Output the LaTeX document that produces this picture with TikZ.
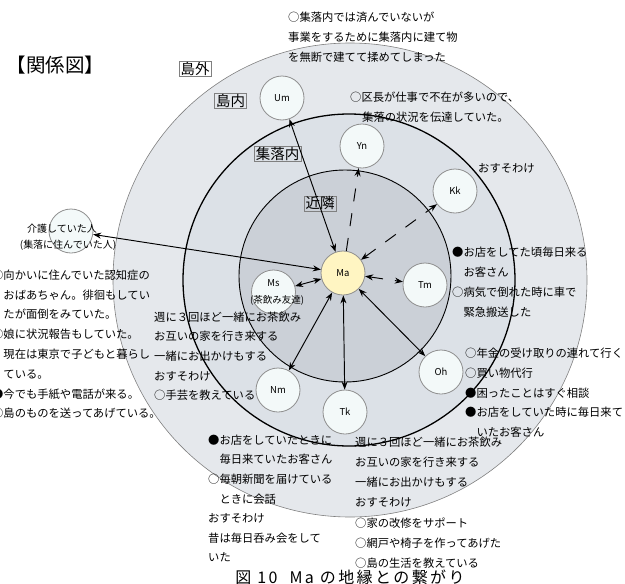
\documentclass[tikz,border=0pt]{standalone}
\usepackage{fontspec}
\setmainfont{Noto Sans CJK JP}
\usetikzlibrary{arrows.meta}
\definecolor{zoneA}{HTML}{E5E8EC}
\definecolor{zoneB}{HTML}{DCE1E7}
\definecolor{zoneC}{HTML}{CBD0D7}
\definecolor{nodefill}{HTML}{F3F9F9}
\definecolor{mafill}{HTML}{FFF5C2}
\definecolor{ringgray}{HTML}{8E8E8E}
\tikzset{
  person/.style={circle, draw=ringgray, line width=0.8pt, fill=nodefill, minimum size=44pt, inner sep=0pt, font=\fontsize{9.5}{11}\selectfont},
  mainperson/.style={person, fill=mafill},
  zonelbl/.style={draw=gray, line width=0.5pt, inner xsep=1.5pt, inner ysep=1pt, font=\fontsize{14.5}{16}\selectfont},
  txt/.style={anchor=base west, inner sep=0pt, font=\fontsize{11.3}{13}\selectfont},
  smalltxt/.style={anchor=base, inner sep=0pt, font=\fontsize{9.5}{11}\selectfont},
  tipx/.tip={Stealth[length=8pt,width=6pt]},
  link/.style={line width=0.95pt, tipx-tipx},
  dlink/.style={link, dash pattern=on 13pt off 12pt},
  slink/.style={line width=0.95pt, -tipx, dash pattern=on 13pt off 12pt},
}
\begin{document}
\begin{tikzpicture}[x=1pt,y=-1pt]
\useasboundingbox (0,0) rectangle (625,584);
% zones
\filldraw[fill=zoneA, draw=gray, line width=0.6pt] (350,280) circle[radius=237pt];
\filldraw[fill=zoneB, draw=black, line width=1.3pt] (349,280) circle[radius=166pt];
\filldraw[fill=zoneC, draw=black, line width=0.9pt] (345,276) circle[radius=106pt];
% zone labels
\node[zonelbl, fill=white] (lblout) at (195,68.5) {島外};
\node[zonelbl] (lblin) at (230.5,100.5) {島内};
\node[zonelbl] (lblvil) at (277.5,154) {集落内};
\node[zonelbl] (lblnb) at (320,203.5) {近隣};
% title
\node[anchor=base, inner sep=0pt, font=\fontsize{19.5}{22}\selectfont] (title) at (55.5,72) {【関係図】};
% people
\node[mainperson] (Ma) at (343,273) {Ma};
\node[person] (Um) at (282,98) {Um};
\node[person] (Yn) at (362,146) {Yn};
\node[person] (Kk) at (455,191) {Kk};
\node[person] (Tm) at (425,285) {Tm};
\node[person] (Oh) at (441,372) {Oh};
\node[person] (Tk) at (345,412) {Tk};
\node[person] (Nm) at (278,390) {Nm};
\node[person] (Ms) at (273.5,292) {};
\node[smalltxt] (Mslbl) at (273.5,286.5) {Ms};
\node[smalltxt] (Mslbl2) at (277,303.5) {(茶飲み友達)};
\node[person] (Kaigo) at (71,231) {};
\node[smalltxt, font=\fontsize{10}{12}\selectfont] (Kaigolbl) at (62,232) {介護していた人};
\node[smalltxt, font=\fontsize{10}{12}\selectfont] (Kaigolbl2) at (68,248) {(集落に住んでいた人)};
% connectors
\draw[link] (Ma) -- (Kaigo);
\draw[link] (Ma) -- (Um);
\draw[slink] (Ma) -- (Yn);
\draw[dlink] (Ma) -- (Kk);
\draw[dlink] (Ma) -- (Tm);
\draw[link] (Ma) -- (Oh);
\draw[link] (Ma) -- (Tk);
\draw[link] (Ma) -- (Nm);
\draw[link] (Ma) -- (Ms);
% text blocks
\foreach \t [count=\i from 0] in {○集落内では済んでいないが, 事業をするために集落内に建て物, を無断で建てて揉めてしまった}
  \node[txt] (topblk\i) at (288,{21.3+20*\i}) {\t};
\node[txt] (kucho1) at (350,101.3) {○区長が仕事で不在が多いので、};
\node[txt] (kucho2) at (362,121.3) {集落の状況を伝達していた。};
\node[txt] (kkblk) at (478,172.3) {おすそわけ};
\foreach \t [count=\i from 0] in {●お店をしてた頃毎日来る, 　お客さん, ○病気で倒れた時に車で, 　緊急搬送した}
  \node[txt] (tmblk\i) at (452,{256.3+20*\i}) {\t};
\foreach \t [count=\i from 0] in {○年金の受け取りの連れて行く, ○買い物代行, ●困ったことはすぐ相談, ●お店をしていた時に毎日来て, 　いたお客さん}
  \node[txt] (ohblk\i) at (465,{357.6+19.7*\i}) {\t};
\foreach \t [count=\i from 0] in {○向かいに住んでいた認知症の, 　おばあちゃん。徘徊もしてい, 　たが面倒をみていた。, ○娘に状況報告もしていた。, 　現在は東京で子どもと暮らし, 　ている。, ●今でも手紙や電話が来る。, ○島のものを送ってあげている。}
  \node[txt] (leftblk\i) at (-8,{279.3+19.8*\i}) {\t};
\foreach \t [count=\i from 0] in {週に３回ほど一緒にお茶飲み, お互いの家を行き来する, 一緒にお出かけもする, おすそわけ, ○手芸を教えている}
  \node[txt] (msblk\i) at (154,{321+19.7*\i}) {\t};
\foreach \t [count=\i from 0] in {●お店をしていたときに, 　毎日来ていたお客さん, ○毎朝新聞を届けている, 　ときに会話, おすそわけ, 昔は毎日呑み会をして, いた}
  \node[txt] (nmblk\i) at (208,{444.3+19.6*\i}) {\t};
\foreach \t [count=\i from 0] in {週に３回ほど一緒にお茶飲み, お互いの家を行き来する, 一緒にお出かけもする, おすそわけ, ○家の改修をサポート, ○網戸や椅子を作ってあげた, ○島の生活を教えている}
  \node[txt] (tkblk\i) at (355,{446.3+20.2*\i}) {\t};
% caption
\node[anchor=base, inner sep=0pt, font=\fontsize{16}{18}\selectfont\addfontfeature{LetterSpace=15}] (caption) at (350,583) {図 10 \ Ma の地縁との繋がり};
\end{tikzpicture}
\end{document}
